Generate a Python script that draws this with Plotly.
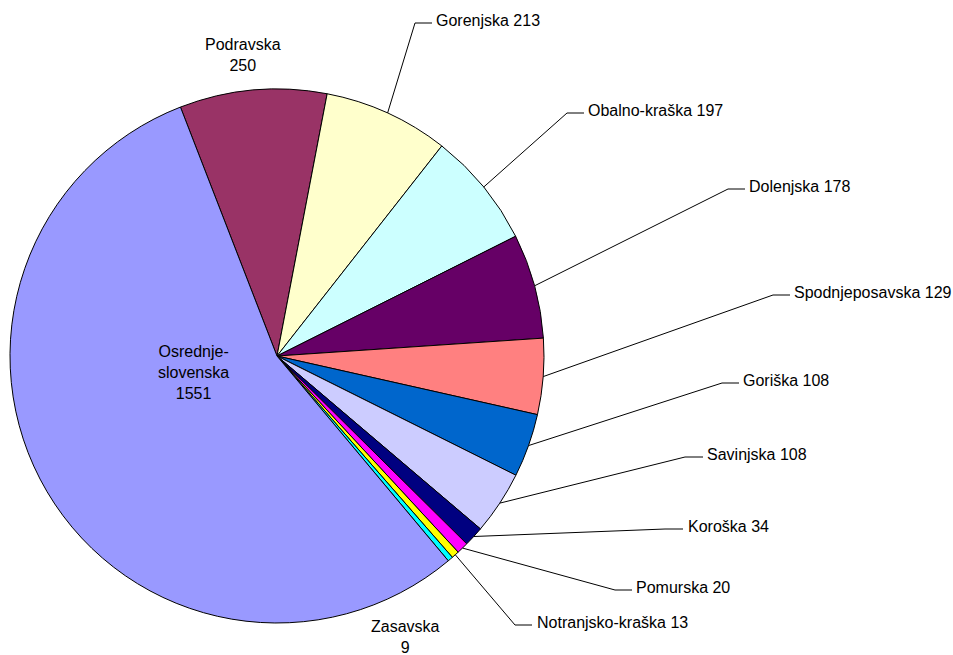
import math
import plotly.graph_objects as go

# ---- data ----
regions = ["Podravska", "Gorenjska", "Obalno-kraška", "Dolenjska", "Spodnjeposavska",
           "Goriška", "Savinjska", "Koroška", "Pomurska", "Notranjsko-kraška",
           "Zasavska", "Osrednje-slovenska"]
values = [250, 213, 197, 178, 129, 108, 108, 34, 20, 13, 9, 1551]
colors = ["#993366", "#FFFFCC", "#CCFFFF", "#660066", "#FF8080", "#0066CC",
          "#CCCCFF", "#000080", "#FF00FF", "#FFFF00", "#00FFFF", "#9999FF"]

# ---- layout geometry (page pixels; body margin removed in the page) ----
W, H = 953, 655
CX, CY, R = 277, 356, 267
ROTATION = -21.2
FONT = dict(family="Liberation Sans, Arial, sans-serif", size=16, color="black")

def px(x, y):
    return x / W, 1 - y / H

d0 = px(CX - R, CY + R)
d1 = px(CX + R, CY - R)
fig = go.Figure(go.Pie(
    labels=regions, values=values, sort=False, direction="clockwise",
    rotation=ROTATION, textinfo="none", hoverinfo="label+value",
    marker=dict(colors=colors, line=dict(color="black", width=1)),
    domain=dict(x=[d0[0], d1[0]], y=[d0[1], d1[1]]),
    showlegend=False,
))

# label placement for leader-lined labels: elbow point, end of horizontal stub, text x
leader = {
    "Gorenjska": ((415, 23), (432, 23), 434),
    "Obalno-kraška": ((567, 113), (584, 113), 586),
    "Dolenjska": ((728, 189), (745, 189), 747),
    "Spodnjeposavska": ((773, 295), (790, 295), 792),
    "Goriška": ((722, 383), (739, 383), 741),
    "Savinjska": ((685, 457), (703, 457), 705),
    "Koroška": ((665, 529), (683, 529), 686),
    "Pomurska": ((615, 590), (632, 590), 634),
    "Notranjsko-kraška": ((515, 625), (532, 625), 535),
}
centered = {
    "Podravska": (243, 55, "Podravska<br>250"),
    "Zasavska": (405, 637, "Zasavska<br>9"),
    "Osrednje-slovenska": (193, 372, "Osrednje-<br>slovenska<br>1551"),
}

total = sum(values)
shapes, annotations = [], []
cum = 0.0
for name, v in zip(regions, values):
    mid = math.radians(ROTATION + (cum + v / 2) / total * 360)
    cum += v
    sx, sy = CX + R * math.sin(mid), CY - R * math.cos(mid)
    if name in leader:
        (ex, ey), (tx, ty), txt_x = leader[name]
        p0, p1, p2 = px(sx, sy), px(ex, ey), px(tx, ty)
        shapes.append(dict(type="path", xref="paper", yref="paper",
                           path=f"M {p0[0]},{p0[1]} L {p1[0]},{p1[1]} L {p2[0]},{p2[1]}",
                           line=dict(color="black", width=1)))
        ax, ay = px(txt_x, ty - 3)
        annotations.append(dict(x=ax, y=ay, xref="paper", yref="paper", xanchor="left",
                                yanchor="middle", showarrow=False, text=f"{name} {v}",
                                font=FONT))
    elif name in centered:
        cx_, cy_, txt = centered[name]
        ax, ay = px(cx_, cy_)
        annotations.append(dict(x=ax, y=ay, xref="paper", yref="paper", xanchor="center",
                                yanchor="middle", showarrow=False, text=txt,
                                font=FONT, align="center"))

fig.update_layout(width=W, height=H, margin=dict(l=0, r=0, t=0, b=0),
                  paper_bgcolor="white", plot_bgcolor="white",
                  shapes=shapes, annotations=annotations)
fig.write_html("out.html", config={"displayModeBar": False},
               post_script="document.body.style.margin='0';document.body.style.overflow='hidden';")
